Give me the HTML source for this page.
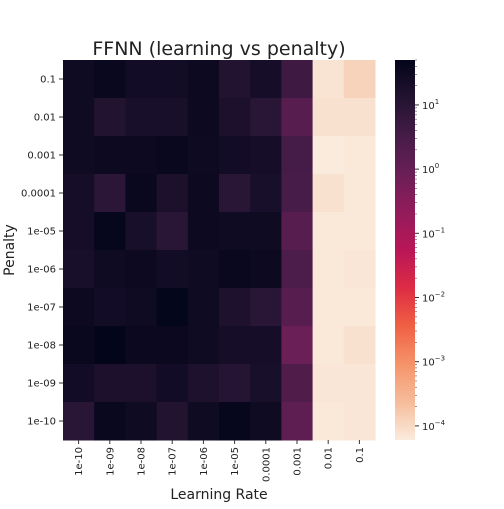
<!DOCTYPE html>
<html><head><meta charset="utf-8"><style>
body{margin:0;background:#fff;font-family:"Liberation Sans","DejaVu Sans",sans-serif}
svg text{font-family:"DejaVu Sans","Liberation Sans",sans-serif;fill:#222}
</style></head><body>
<svg id="chart" width="504" height="504" viewBox="0 0 504 504" xmlns="http://www.w3.org/2000/svg">
<defs><linearGradient id="cbg" x1="0" y1="0" x2="0" y2="1"></linearGradient></defs>
<text x="219" y="55" font-size="19" text-anchor="middle">FFNN (learning vs penalty)</text>
<text x="219" y="499" font-size="14" text-anchor="middle">Learning Rate</text>
<text transform="translate(14,250) rotate(-90)" font-size="14" text-anchor="middle">Penalty</text>
<g id="cells"></g><g id="xt"></g><g id="yt"></g>
<rect x="395" y="60" width="20" height="380" fill="url(#cbg)"/>
<g id="cbt"></g>
</svg>
<script>
const learningRates=["1e-10","1e-09","1e-08","1e-07","1e-06","1e-05","0.0001","0.001","0.01","0.1"];
const penalties=["0.1","0.01","0.001","0.0001","1e-05","1e-06","1e-07","1e-08","1e-09","1e-10"];
const row0=[29,38,25,25,33,13,22,4.3,7.5e-5,1.2e-4];
const row1=[29,13,19.5,19.5,33,17,9.8,1.7,8e-5,8e-5];
const row2=[29,33,33,38,31,25,22,3.3,6e-5,6.5e-5];
const row3=[22,8.6,38,17,33,9.8,19.5,2.9,8e-5,6.5e-5];
const row4=[22,44,19.5,9.8,33,29,29,1.7,6.5e-5,6.5e-5];
const row5=[19.5,29,33,25,29,38,33,2.5,6.5e-5,7e-5];
const row6=[33,25,29,47,29,15,9.8,1.7,6.5e-5,6.5e-5];
const row7=[38,50,36,36,29,22,22,0.84,6.5e-5,8e-5];
const row8=[25,17,17,25,15,11.3,19.5,2.2,7e-5,7e-5];
const row9=[9.8,38,29,13,29,44,29,1.3,6.5e-5,7e-5];
const values=[row0,row1,row2,row3,row4,row5,row6,row7,row8,row9];
const cbTicks=[1,0,-1,-2,-3,-4];
const NS="http://www.w3.org/2000/svg";
const X0=63,X1=375,Y0=60,Y1=440,LMAX=1.70,LMIN=-4.22;
const stops=[[3,5,26],[34,19,49],[69,28,71],[106,31,86],[146,28,91],[185,22,87],[221,44,69],[240,96,67],[245,147,106],[246,188,154],[250,235,221]];
function rocket(t){t=Math.max(0,Math.min(1,t));const p=t*10,i=Math.min(9,Math.floor(p)),f=p-i;const a=stops[i],b=stops[i+1];return `rgb(${a.map((v,k)=>Math.round(v+(b[k]-v)*f)).join(",")})`;}
function colorOf(v){return rocket((LMAX-Math.log10(v))/(LMAX-LMIN));}
const xs=i=>X0+i*(X1-X0)/learningRates.length, ys=j=>Y0+j*(Y1-Y0)/penalties.length;
const cw=(X1-X0)/learningRates.length, ch=(Y1-Y0)/penalties.length;
const cells=document.getElementById('cells');
values.forEach((r,j)=>r.forEach((v,i)=>{const e=document.createElementNS(NS,'rect');


e.setAttribute('x',xs(i));e.setAttribute('y',ys(j));e.setAttribute('width',cw+0.5);e.setAttribute('height',ch+0.5);e.setAttribute('fill',colorOf(v));cells.appendChild(e);}));
const xt=document.getElementById('xt');
learningRates.forEach((l,i)=>{const cx=xs(i)+cw/2;const ln=document.createElementNS(NS,'line');


ln.setAttribute('x1',cx);ln.setAttribute('x2',cx);ln.setAttribute('y1',Y1);ln.setAttribute('y2',Y1+4);ln.setAttribute('stroke','#333');xt.appendChild(ln);
const t=document.createElementNS(NS,'text');


t.setAttribute('transform',`translate(${cx+3.5},${Y1+7}) rotate(-90)`);t.setAttribute('font-size','10');t.setAttribute('text-anchor','end');t.textContent=l;xt.appendChild(t);});
const yt=document.getElementById('yt');
penalties.forEach((p,j)=>{const cy=ys(j)+ch/2;const ln=document.createElementNS(NS,'line');


ln.setAttribute('x1',X0-4);ln.setAttribute('x2',X0);ln.setAttribute('y1',cy);ln.setAttribute('y2',cy);ln.setAttribute('stroke','#333');yt.appendChild(ln);
const t=document.createElementNS(NS,'text');


t.setAttribute('x',X0-7);t.setAttribute('y',cy+3.5);t.setAttribute('font-size','10');t.setAttribute('text-anchor','end');t.textContent=p;yt.appendChild(t);});
const g=document.getElementById('cbg');
for(let k=0;k<=20;k++){const s=document.createElementNS(NS,'stop');s.setAttribute('offset',k/20);s.setAttribute('stop-color',rocket(k/20));g.appendChild(s);}
const cb=document.getElementById('cbt');
const cy=l=>Y0+(LMAX-l)/(LMAX-LMIN)*(Y1-Y0);
cbTicks.forEach(l=>{const y=cy(l);const ln=document.createElementNS(NS,'line');


ln.setAttribute('x1',415);ln.setAttribute('x2',419);ln.setAttribute('y1',y);ln.setAttribute('y2',y);ln.setAttribute('stroke','#333');cb.appendChild(ln);
for(let m=2;m<10;m++){const my=cy(l+Math.log10(m));if(my<Y0||my>Y1)continue;const mn=document.createElementNS(NS,'line');mn.setAttribute('x1',415);mn.setAttribute('x2',417);mn.setAttribute('y1',my);mn.setAttribute('y2',my);mn.setAttribute('stroke','#555');mn.setAttribute('stroke-width','0.6');cb.appendChild(mn);}
const t=document.createElementNS(NS,'text');


t.setAttribute('x',422);t.setAttribute('y',y+4);t.setAttribute('font-size','10');
t.innerHTML=`10<tspan dy="-5" font-size="7">${l<0?'\u2212'+(-l):l}</tspan>`;cb.appendChild(t);});
</script>
</body></html>
